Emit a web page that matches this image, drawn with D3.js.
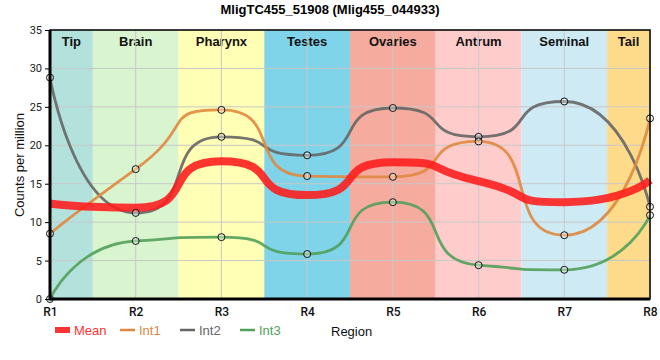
<!DOCTYPE html>
<html><head><meta charset="utf-8">
<script src="https://cdn.jsdelivr.net/npm/d3@7"></script>
<style>body{margin:0;background:#fff}</style>
</head><body><svg id="c" width="660" height="360"></svg>
<script>
const regions = ["R1","R2","R3","R4","R5","R6","R7","R8"];
const bandNames = ["Tip","Brain","Pharynx","Testes","Ovaries","Antrum","Seminal","Tail"];
const bandColors = ["#b3e2dd","#d9f5d0","#ffffb5","#7fd4ea","#f5ac9f","#ffcccc","#cdeaf5","#fddb8a"];
const int1 = [8.5, 16.9, 24.6, 16.0, 15.9, 20.5, 8.3, 23.5];
const int2 = [28.8, 11.2, 21.1, 18.7, 24.85, 21.1, 25.7, 12.0];
const int3 = [0.0, 7.55, 8.05, 5.85, 12.6, 4.4, 3.8, 10.9];
const yTicks = [0,5,10,15,20,25,30,35];
const mean = regions.map((r,i)=>(int1[i]+int2[i]+int3[i])/3);

// spline curve: control points at fraction K of the neighbour spacing, flattened at extremes
const K = 0.72;
function SplineK(ctx){ this._context = ctx; }
SplineK.prototype = {
  areaStart(){}, areaEnd(){},
  lineStart(){ this._p = []; },
  point(x,y){ this._p.push([+x,+y]); },
  lineEnd(){
    const p = this._p, n = p.length, c = this._context;
    if(!n) return;
    const L = [], R = [];
    for(let i=0;i<n;i++){
      if(i===0 || i===n-1){ L[i]=p[i].slice(); R[i]=p[i].slice(); continue; }
      const [px,py]=p[i], [ax,ay]=p[i-1], [bx,by]=p[i+1];
      let lx = px + K*(ax-px), ly = py + K*(ay-py);
      let rx = px + K*(bx-px), ry = py + K*(by-py);
      const corr = (ry-ly)*(rx-px)/(rx-lx) + py - ry;
      ly += corr; ry += corr;
      if(ly>ay && ly>py){ ly=Math.max(ay,py); ry=2*py-ly; }
      else if(ly<ay && ly<py){ ly=Math.min(ay,py); ry=2*py-ly; }
      if(ry>by && ry>py){ ry=Math.max(by,py); ly=2*py-ry; }
      else if(ry<by && ry<py){ ry=Math.min(by,py); ly=2*py-ry; }
      L[i]=[lx,ly]; R[i]=[rx,ry];
    }
    c.moveTo(p[0][0],p[0][1]);
    for(let i=1;i<n;i++) c.bezierCurveTo(R[i-1][0],R[i-1][1],L[i][0],L[i][1],p[i][0],p[i][1]);
  }
};
const curveSplineK = ctx => new SplineK(ctx);

const svg = d3.select("#c");
const m = {l:50, r:650, t:30, b:299};
const x = d3.scalePoint().domain(regions).range([m.l, m.r]);
const y = d3.scaleLinear().domain([0,35]).range([m.b, m.t]);
const step = x.step();
const font = "Liberation Sans, Arial, sans-serif";

// bands
const g = svg.append("g");
regions.forEach((r,i)=>{
  const x0 = Math.max(m.l, x(r)-step/2), x1 = Math.min(m.r, x(r)+step/2);
  g.append("rect").attr("x",x0).attr("y",m.t).attr("width",x1-x0).attr("height",m.b-m.t).attr("fill",bandColors[i]);
  g.append("text").attr("x",(x0+x1)/2).attr("y",46).attr("text-anchor","middle")
    .attr("font-family",font).attr("font-weight","bold").attr("font-size",13)
    .attr("fill","#111").text(bandNames[i]);
});
// grid
svg.append("g").selectAll("line").data(yTicks).join("line")
  .attr("x1",m.l).attr("x2",m.r).attr("y1",d=>y(d)).attr("y2",d=>y(d)).attr("stroke","#c8c8c8").attr("stroke-width",1);
svg.append("g").selectAll("line").data(regions).join("line")
  .attr("y1",m.t).attr("y2",m.b).attr("x1",d=>x(d)).attr("x2",d=>x(d)).attr("stroke","#c8c8c8").attr("stroke-width",1);

// lines
const line = d3.line().x((d,i)=>x(regions[i])).y(d=>y(d)).curve(curveSplineK);
const series = [
  {name:"Int3", data:int3, color:"#52a05a"},
  {name:"Int2", data:int2, color:"#666666"},
  {name:"Int1", data:int1, color:"#e0883f"}
];
series.forEach(s=>{
  svg.append("path").attr("d",line(s.data)).attr("fill","none").attr("stroke",s.color).attr("stroke-opacity",0.9).attr("stroke-width",2.8);
});
svg.append("path").attr("d",line(mean)).attr("fill","none").attr("stroke","#ff1a1a").attr("stroke-opacity",0.88).attr("stroke-width",8);
series.forEach(s=>{
  svg.append("g").selectAll("circle").data(s.data).join("circle")
    .attr("cx",(d,i)=>x(regions[i])).attr("cy",d=>y(d)).attr("r",3.5)
    .attr("fill","#fff").attr("fill-opacity",0.35).attr("stroke","#111").attr("stroke-width",1);
});

// frame
svg.append("rect").attr("x",m.l).attr("y",m.t).attr("width",m.r-m.l).attr("height",m.b-m.t).attr("fill","none").attr("stroke","#000").attr("stroke-width",1.5);
svg.append("line").attr("x1",m.l).attr("x2",m.l).attr("y1",m.t).attr("y2",m.b+1.5).attr("stroke","#000").attr("stroke-width",3);
svg.append("line").attr("x1",m.l).attr("x2",m.r).attr("y1",m.b).attr("y2",m.b).attr("stroke","#000").attr("stroke-width",3);

// axes
const ya = svg.append("g").attr("transform",`translate(${m.l-1},0)`).call(d3.axisLeft(y).tickValues(yTicks).tickSize(4).tickPadding(3));
ya.select(".domain").remove();
ya.selectAll("text").attr("font-family","Roboto, Liberation Sans, sans-serif").attr("font-size",11).attr("fill","#222");
const xa = svg.append("g").attr("transform",`translate(0,${m.b+1})`).call(d3.axisBottom(x).tickSize(0).tickPadding(7));
xa.select(".domain").remove();
xa.selectAll("text").attr("font-family","Roboto, Liberation Sans, sans-serif").attr("font-weight","500").attr("font-size",12).attr("fill","#111");

// titles
svg.append("text").attr("x",330).attr("y",14).attr("text-anchor","middle")
  .attr("font-family",font).attr("font-weight","bold").attr("font-size",13).text("MligTC455_51908 (Mlig455_044933)");
svg.append("text").attr("transform","translate(24,165) rotate(-90)").attr("text-anchor","middle")
  .attr("font-family",font).attr("font-size",13).attr("fill","#111").text("Counts per million");
svg.append("text").attr("x",331).attr("y",336)
  .attr("font-family",font).attr("font-size",13).attr("fill","#111").text("Region");

// legend
const legendNames = ["Mean","Int1","Int2","Int3"];
const legendColors = ["#ff3333","#e0883f","#666666","#52a05a"];
const legendX = [55,120,180,240];
legendNames.forEach((name,i)=>{
  if(i===0) svg.append("rect").attr("x",legendX[i]).attr("y",327).attr("width",15).attr("height",6).attr("fill",legendColors[i]);
  else svg.append("line").attr("x1",legendX[i]).attr("x2",legendX[i]+15).attr("y1",330).attr("y2",330).attr("stroke",legendColors[i]).attr("stroke-width",2.5);
  svg.append("text").attr("x",legendX[i]+19).attr("y",335).attr("font-family",font)
    .attr("font-size",13).attr("fill",legendColors[i]).text(name);
});
</script></body></html>
